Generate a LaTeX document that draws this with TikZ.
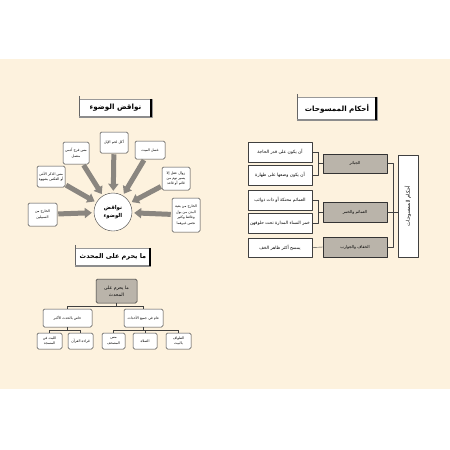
\documentclass[tikz,border=0pt]{standalone}
\usepackage{fontspec}
\newfontfamily\arabicfont[Script=Arabic]{DejaVu Sans}
\TeXXeTstate=1
\usetikzlibrary{arrows.meta,calc}
\newcommand{\ar}[1]{\beginR #1\endR}
\definecolor{cream}{RGB}{253,242,222}
\definecolor{boxgray}{RGB}{186,180,170}
\definecolor{arrowgray}{RGB}{138,134,128}
\tikzset{
  rbox/.style={draw=black!75, fill=white, rounded corners=1.5pt, line width=0.5pt, align=center, inner sep=0.5pt, font=\arabicfont\fontsize{3.5}{5.4}\selectfont},
  sbox/.style={rbox, rounded corners=0pt, font=\arabicfont\fontsize{4.4}{5.4}\selectfont},
  gbox/.style={draw=black!80, fill=boxgray, line width=0.5pt, align=center, inner sep=0.5pt, font=\arabicfont\fontsize{4}{5.4}\selectfont},
  titlebox/.style={draw=black!40, fill=white, inner sep=0pt, font=\arabicfont\bfseries\fontsize{7.2}{8}\selectfont},
  fatarrow/.style={draw=arrowgray, line width=5pt, -{Triangle[width=10pt,length=7pt]}, shorten >=2pt, shorten <=1pt}
}
\newcommand{\titleshade}[1]{%
  \draw[black!60, line width=0.5pt] ($(#1.north west)+(0,-3)$) -- (#1.south west);
  \draw[black!45, line width=1.6pt] (#1.south west) -- (#1.south east);
  \draw[black, line width=2.2pt] ($(#1.north east)+(-1.1,0)$) -- ($(#1.south east)+(-1.1,0)$);}

\begin{document}
\begin{tikzpicture}[x=1pt, y=-1pt, line join=round]
  %%%%% START %%%%%
  \useasboundingbox (0,0) rectangle (450,450);
  \fill[white] (0,0) rectangle (450,450);
  \fill[cream] (0,59) rectangle (450,389);

  %% nawaqid al-wudu
  \node[titlebox, minimum width=73, minimum height=18] (t1) at (115.5,108) {\ar{نواقض الوضوء}};
  \titleshade{t1}

  \node[circle, draw=black!75, fill=white, minimum size=38, align=center, inner sep=0pt,
        font=\arabicfont\bfseries\fontsize{5.4}{8.5}\selectfont] (nw) at (113,212) {\ar{نواقض}\\\ar{الوضوء}};

  \node[rbox, minimum width=29, minimum height=23] (n1) at (42.5,214.5) {\ar{الخارج من}\\\ar{السبيلين}};
  \node[rbox, minimum width=28, minimum height=21] (n2) at (51,176.5) {\ar{مس الذكر الأنثى}\\\ar{أو العكس بشهوة}};
  \node[rbox, minimum width=26, minimum height=22] (n3) at (76,153) {\ar{مس فرج آدمي}\\\ar{متصل}};
  \node[rbox, minimum width=28, minimum height=21] (n4) at (114,142.5) {\ar{أكل لحم الإبل}};
  \node[rbox, minimum width=30, minimum height=18] (n5) at (150,150) {\ar{غسل الميت}};
  \node[rbox, minimum width=28, minimum height=23] (n6) at (176,178.5) {\ar{زوال عقل إلا}\\\ar{يسير نوم من}\\\ar{قائم أو قاعد}};
  \node[rbox, minimum width=28, minimum height=34] (n7) at (186,215) {\ar{الخارج من بقية}\\\ar{البدن من بول}\\\ar{وغائط وكثير}\\\ar{نجس غيرهما}};

  \foreach \n in {n1,n2,n3,n4,n5,n6,n7}
    \draw[fatarrow] (\n) -- (nw);

  %% ahkam al-mamsuhat
  \node[titlebox, minimum width=80, minimum height=23] (t2) at (337,108.5) {\ar{أحكام الممسوحات}};
  \titleshade{t2}

  \node[sbox, minimum width=64, minimum height=20] (ma) at (280,152) {\ar{أن يكون على قدر الحاجة}};
  \node[sbox, minimum width=64, minimum height=20] (mb) at (280,175) {\ar{أن يكون وضعها على طهارة}};
  \node[sbox, minimum width=64, minimum height=20] (mc) at (280,200) {\ar{العمائم محنكة أو ذات ذوائب}};
  \node[sbox, minimum width=64, minimum height=20] (md) at (280,223) {\ar{خمر النساء المدارة تحت حلوقهن}};
  \node[sbox, minimum width=64, minimum height=19] (me) at (280,247.5) {\ar{يمسح أكثر ظاهر الخف}};

  \node[gbox, minimum width=64, minimum height=19] (jab) at (355,163.5) {\ar{الجبائر}};
  \node[gbox, minimum width=64, minimum height=20] (ama) at (355,212) {\ar{العمائم والخمر}};
  \node[gbox, minimum width=64, minimum height=20] (khi) at (355,247) {\ar{الخفاف والجوارب}};

  \node[sbox, rotate=90, minimum width=102, minimum height=20,
        font=\arabicfont\fontsize{5.2}{6}\selectfont] (ahk) at (408,206) {\ar{أحكام الممسوحات}};

  \draw[black!75] (jab.west) -- ++(-5,0) coordinate (ja) (ja |- ma.east) -- (ma.east) (ja |- ma.east) -- (ja |- mb.east) -- (mb.east);
  \draw[black!75] (ama.west) -- ++(-5,0) coordinate (aa) (aa |- mc.east) -- (mc.east) (aa |- mc.east) -- (aa |- md.east) -- (md.east);
  \draw[black!75] (me.east) -- (khi.west);
  \draw[black!75] (jab.east) -- ++(6,0) coordinate (jr) -- (jr |- khi.east) -- (khi.east);
  \draw[black!75] (ama.east) -- (ama.east -| ahk.north);

  %% ma yahrum ala al-muhdith
  \node[titlebox, minimum width=75, minimum height=18, text width=68, align=center, xshift=-1.5,
        font=\arabicfont\bfseries\fontsize{6.5}{8}\selectfont] (t3) at (114.5,257) {\ar{ما يحرم على المحدث}};
  \titleshade{t3}

  \node[gbox, rounded corners=1.5pt, minimum width=41, minimum height=24,
        font=\arabicfont\fontsize{4.6}{7}\selectfont] (muh) at (116.5,291) {\ar{ما يحرم على}\\\ar{المحدث}};
  \node[rbox, minimum width=39, minimum height=18] (aam) at (143.5,318) {\ar{عام في جميع الأحداث}};
  \node[rbox, minimum width=49, minimum height=18] (khs) at (67.5,318) {\ar{خاص بالحدث الأكبر}};

  \node[rbox, minimum width=25, minimum height=16] (lub) at (49.5,341) {\ar{اللبث في}\\\ar{المسجد}};
  \node[rbox, minimum width=25, minimum height=16] (qir) at (80.5,341) {\ar{قراءة القرآن}};
  \node[rbox, minimum width=23, minimum height=16] (mas) at (113.5,341) {\ar{مس}\\\ar{المصحف}};
  \node[rbox, minimum width=24, minimum height=16] (sal) at (145,341) {\ar{الصلاة}};
  \node[rbox, minimum width=25, minimum height=16] (taw) at (178.5,341) {\ar{الطواف}\\\ar{بالبيت}};

  \draw[black!75] (muh.south) -- ++(0,3) coordinate (m1) (m1 -| khs.north) -- (m1 -| aam.north)
    (m1 -| khs.north) -- (khs.north) (m1 -| aam.north) -- (aam.north);
  \draw[black!75] (khs.south) -- ++(0,3) coordinate (k1) (k1 -| lub.north) -- (k1 -| qir.north)
    (k1 -| lub.north) -- (lub.north) (k1 -| qir.north) -- (qir.north);
  \draw[black!75] (aam.south) -- ++(0,3) coordinate (a1) (a1 -| mas.north) -- (a1 -| taw.north)
    (a1 -| mas.north) -- (mas.north) (a1 -| sal.north) -- (sal.north) (a1 -| taw.north) -- (taw.north);
  %%%%% END %%%%%
\end{tikzpicture}
\end{document}
